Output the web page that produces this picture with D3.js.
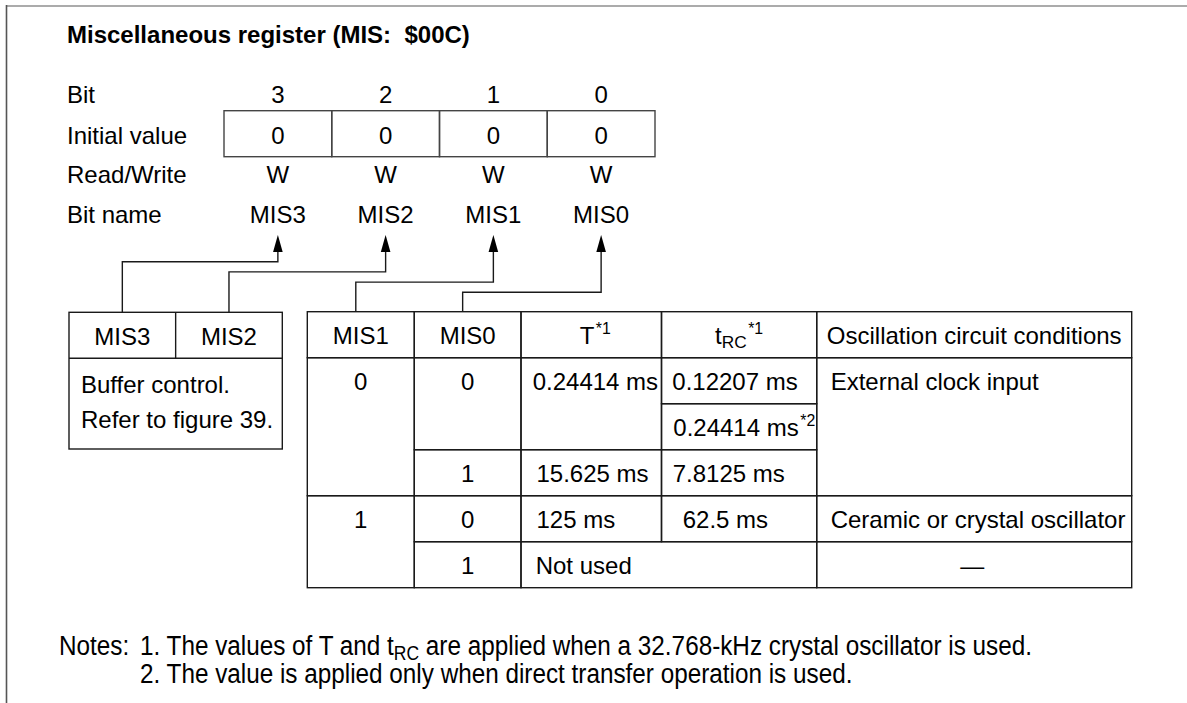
<!DOCTYPE html>
<html><head><meta charset="utf-8">
<script src="https://cdn.jsdelivr.net/npm/d3@7"></script>
<style>
html,body{margin:0;padding:0;background:#fff;}
svg{display:block;font-family:"Liberation Sans",Arial,Helvetica,sans-serif;}
text{white-space:pre;}
</style></head><body><svg id="c" width="1187" height="703"></svg>
<script>
// ---------- data ----------
const title = "Miscellaneous register (MIS:  $00C)";
const rowLabels = ["Bit", "Initial value", "Read/Write", "Bit name"];
const bits = [3, 2, 1, 0];
const initialValues = ["0", "0", "0", "0"];
const readWrite = ["W", "W", "W", "W"];
const bitNames = ["MIS3", "MIS2", "MIS1", "MIS0"];
const bufferHeaders = ["MIS3", "MIS2"];
const bufferText = ["Buffer control.", "Refer to figure 39."];
const modeHeaders = ["MIS1", "MIS0", "T^{*1}", "t_{RC}^{*1}", "Oscillation circuit conditions"];
const mis1Values = ["0", "1"];
const mis0Values = ["0", "1", "0", "1"];
const periodT = ["0.24414 ms", "15.625 ms", "125 ms", "Not used"];
const periodTrc = ["0.12207 ms", "0.24414 ms^{*2}", "7.8125 ms", "62.5 ms"];
const conditions = ["External clock input", "Ceramic or crystal oscillator", "\u2014"];
const notesLabel = "Notes:";
const notes = ["1. The values of T and t_{RC} are applied when a 32.768-kHz crystal oscillator is used.",
               "2. The value is applied only when direct transfer operation is used."];

// ---------- helpers ----------
const svg = d3.select("#c");
const FS = 24, LINE = "#1a1a1a";

function richText(sel, str, size) {
  const parts = str.split(/(_\{[^}]*\}|\^\{[^}]*\})/).filter(s => s.length);
  let prev = 0;
  parts.forEach(p => {
    let t = p, shift = 0, fs = size, gap = 0;
    if (p.startsWith("_{")) { t = p.slice(2, -1); shift = size * 0.18; fs = size * 0.72; }
    else if (p.startsWith("^{")) { t = p.slice(2, -1); shift = -size * 0.4; fs = size * 0.66; gap = 1.5; }
    sel.append("tspan").attr("dy", shift - prev).attr("dx", gap).attr("font-size", fs).text(t);
    prev = shift;
  });
}
function txt(x, y, str, anchor, size, extra) {
  const t = svg.append("text").attr("x", x).attr("y", y).attr("text-anchor", anchor || "start")
    .attr("font-size", size || FS).attr("fill", "#000");
  if (extra) extra(t);
  richText(t, str, size || FS);
  return t;
}
function line(x1, y1, x2, y2, w, c) {
  svg.append("line").attr("x1", x1).attr("y1", y1).attr("x2", x2).attr("y2", y2)
    .attr("stroke", c || LINE).attr("stroke-width", w || 1.4);
}

// ---------- frame ----------
line(6, 6, 1187, 6, 2, "#ababab");
line(6.5, 5, 6.5, 703, 1.6, "#555");

// ---------- title ----------
txt(67, 43, title, "start", FS, t => t.attr("font-weight", "bold"));

// ---------- register ----------
const labelY = d3.scaleOrdinal().domain(rowLabels).range([103, 144, 183, 223]);
rowLabels.forEach(l => txt(67, labelY(l), l));

const xBit = d3.scaleBand().domain(bits).range([224, 655]);
svg.append("g").selectAll("rect").data(bits).join("rect")
  .attr("x", d => xBit(d)).attr("y", 110.7).attr("width", xBit.bandwidth()).attr("height", 46)
  .attr("fill", "none").attr("stroke", "#444").attr("stroke-width", 1.4);
bits.forEach((b, i) => {
  const cx = xBit(b) + xBit.bandwidth() / 2;
  txt(cx, labelY("Bit"), String(b), "middle");
  txt(cx, labelY("Initial value"), initialValues[i], "middle");
  txt(cx, labelY("Read/Write"), readWrite[i], "middle");
  txt(cx, labelY("Bit name"), bitNames[i], "middle");
});

// ---------- left table (MIS3, MIS2) ----------
const xL = d3.scaleLinear().domain([0, 2]).range([69, 282.3]);
const yL = d3.scaleLinear().domain([0, 1]).range([312.3, 358.3]);
const leftBottom = 449;
svg.append("rect").attr("x", xL(0)).attr("y", yL(0)).attr("width", xL(2) - xL(0)).attr("height", leftBottom - yL(0))
  .attr("fill", "none").attr("stroke", LINE).attr("stroke-width", 1.4);
line(xL(0), yL(1), xL(2), yL(1));
line(xL(1), yL(0), xL(1), yL(1));
bufferHeaders.forEach((h, i) => txt((xL(i) + xL(i + 1)) / 2, yL(0) + 32.5, h, "middle"));
bufferText.forEach((t, i) => txt(81, 393 + i * 35, t));

// ---------- right table (MIS1, MIS0) ----------
const colEdges = [307.3, 414.3, 521, 661.5, 816.7, 1131.7];
const xR = i => colEdges[i];
const yR = d3.scaleLinear().domain([0, 6]).range([311.7, 587.7]);

// cells: [col0, col1, row0, row1, text, align, x offset]
const cells = [];
modeHeaders.forEach((h, i) => cells.push([i, i + 1, 0, 1, h, "middle", i === 2 ? 4 : 0]));
cells.push([0, 1, 1, 4, mis1Values[0], "middle", 0]);
cells.push([0, 1, 4, 6, mis1Values[1], "middle", 0]);
[[1, 3], [3, 4], [4, 5], [5, 6]].forEach((r, i) => cells.push([1, 2, r[0], r[1], mis0Values[i], "middle", 0]));
const tPad = [11.7, 15.5, 15.5, 14.7];
[[2, 3, 1, 3], [2, 3, 3, 4], [2, 3, 4, 5], [2, 4, 5, 6]].forEach((c, i) =>
  cells.push([c[0], c[1], c[2], c[3], periodT[i], "start", tPad[i]]));
const rcPad = [10.8, 11.8, 11.2, 21.2];
[[1, 2], [2, 3], [3, 4], [4, 5]].forEach((r, i) =>
  cells.push([3, 4, r[0], r[1], periodTrc[i], "start", rcPad[i]]));
cells.push([4, 5, 1, 4, conditions[0], "start", 14]);
cells.push([4, 5, 4, 5, conditions[1], "start", 14]);
cells.push([4, 5, 5, 6, conditions[2], "middle", -2]);

svg.append("g").selectAll("rect").data(cells).join("rect")
  .attr("x", d => xR(d[0])).attr("y", d => yR(d[2]))
  .attr("width", d => xR(d[1]) - xR(d[0])).attr("height", d => yR(d[3]) - yR(d[2]))
  .attr("fill", "none").attr("stroke", LINE).attr("stroke-width", 1.4);
cells.forEach(d => {
  const x = d[5] === "middle" ? (xR(d[0]) + xR(d[1])) / 2 + d[6] : xR(d[0]) + d[6];
  txt(x, yR(d[2]) + 32, d[4], d[5]);
});

// ---------- connectors ----------
const targets = [(xL(0) + xL(1)) / 2, (xL(1) + xL(2)) / 2, (xR(0) + xR(1)) / 2 - 5, (xR(1) + xR(2)) / 2 - 5];
const targetTop = [yL(0), yL(0), yR(0), yR(0)];
const levels = d3.scaleLinear().domain([0, 3]).range([261.7, 292.3]);
bits.forEach((b, i) => {
  const cx = xBit(b) + xBit.bandwidth() / 2;
  const lv = levels(i);
  svg.append("path")
    .attr("d", `M${cx},250 V${lv} H${targets[i]} V${targetTop[i]}`)
    .attr("fill", "none").attr("stroke", LINE).attr("stroke-width", 1.4);
  svg.append("path")
    .attr("d", `M${cx},235 L${cx - 4.8},252 L${cx + 4.8},252 Z`).attr("fill", "#000");
});

// ---------- notes (condensed face: horizontally compressed) ----------
const NFS = 27, NSX = 0.9;
function noteText(x, y, str) {
  const t = svg.append("text").attr("x", 0).attr("y", 0).attr("font-size", NFS).attr("fill", "#000")
    .attr("transform", `translate(${x},${y}) scale(${NSX},1)`);
  richText(t, str, NFS);
}
noteText(59, 655, notesLabel);
notes.forEach((n, i) => noteText(140, 655 + i * 27.5, n));
</script></body></html>
